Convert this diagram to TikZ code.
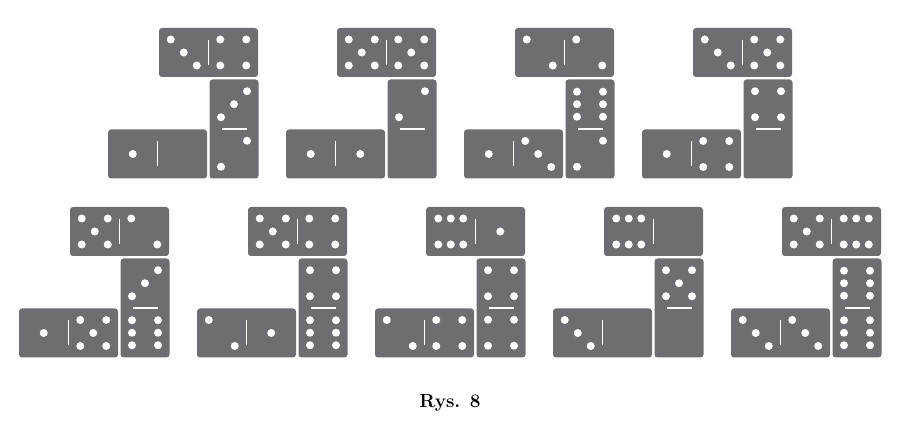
\documentclass[tikz,border=0pt]{standalone}
\definecolor{dom}{HTML}{6D6E71}
\newcommand\pp[2]{\fill[white] (#1,#2) circle (4);}
\newcommand\pipset[1]{\ifcase#1\relax
\or \pp{0}{0}
\or \pp{-13}{13}\pp{13}{-13}
\or \pp{-13}{13}\pp{0}{0}\pp{13}{-13}
\or \pp{-13}{13}\pp{13}{13}\pp{-13}{-13}\pp{13}{-13}
\or \pp{-13}{13}\pp{13}{13}\pp{0}{0}\pp{-13}{-13}\pp{13}{-13}
\or \pp{-12.5}{13}\pp{0}{13}\pp{12.5}{13}\pp{-12.5}{-13}\pp{0}{-13}\pp{12.5}{-13}
\fi}
\newcommand\domino[5]{\begin{scope}[shift={(#1,#2)},rotate=#5]
\fill[dom,rounded corners=3] (-49.5,-24.5) rectangle (49.5,24.5);
\draw[white,line width=1.4] (0,-12.5)--(0,12.5);
\begin{scope}[shift={(-24.75,0)}]\pipset{#3}\end{scope}
\begin{scope}[shift={(24.75,0)}]\pipset{#4}\end{scope}
\end{scope}}
% x0, Y0 (image coords), top a b, vertical top, vertical bottom, bottom a b
\newcommand\grp[8]{%
\domino{#1+100.5}{439-#2-24.5}{#3}{#4}{0}
\domino{#1+126}{439-#2-101}{#6}{#5}{90}
\domino{#1+49.5}{439-#2-126}{#7}{#8}{0}}
\begin{document}
\begin{tikzpicture}[x=1pt,y=1pt]
\useasboundingbox (0,0) rectangle (900,439);
\grp{108}{28}{3}{4}{3}{2}{1}{0}
\grp{286}{28}{5}{5}{2}{0}{1}{1}
\grp{464}{28}{2}{2}{6}{2}{1}{3}
\grp{642}{28}{3}{5}{4}{0}{1}{4}
\grp{19}{207}{5}{2}{3}{6}{1}{5}
\grp{197}{207}{5}{4}{4}{6}{2}{1}
\grp{375}{207}{6}{1}{4}{4}{2}{4}
\grp{553}{207}{6}{0}{5}{0}{3}{0}
\grp{731}{207}{5}{6}{6}{6}{3}{3}
\node[font=\fontsize{19}{22}\selectfont\bfseries] (cap) at (450,36) {Rys. 8};
\end{tikzpicture}
\end{document}
